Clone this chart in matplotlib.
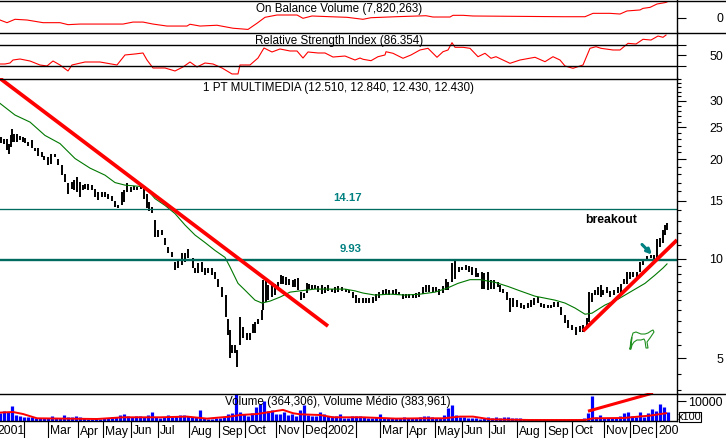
import numpy as np
import matplotlib
matplotlib.use("Agg")
import matplotlib.pyplot as plt
from matplotlib.ticker import FixedLocator, NullFormatter, FixedFormatter

W, H = 726, 438
plt.rcParams['font.family'] = ['Liberation Sans', 'DejaVu Sans']

# ---------- price bars: (session position, high, low) ----------
bars_2001_a = [(1,23.4,22.4),(4,23.0,22.3),(7,23.0,21.4),(9,22.3,20.8),(11,23.6,21.8),(12,24.7,22.5),(14,23.9,22.5),(17,23.8,22.5),(20,23.5,22.8),(23,23.3,22.5),(25,23.2,22.4),(28,22.5,22.0),(32,22.8,21.6),(35,21.7,21.2),(38,21.6,20.5),(42,21.1,20.3),(44,20.5,19.9),(48,20.3,19.2),(51,20.8,19.4),(55,20.8,20.3),(58,20.1,19.2),(62,19.2,17.9),(65,18.1,17.1),(68,16.9,15.7),(72,17.1,16.3),(74,17.3,16.1),(77,17.7,15.9),(80,17.1,15.4),(83,16.7,16.1),(85,16.8,16.2),(88,16.8,16.1),(92,16.7,16.1),(95,16.3,15.4),(98,15.9,15.1),(102,15.9,15.4),(105,15.9,15.4),(108,15.7,15.2),(112,15.5,15.0),(115,15.0,14.3),(118,14.5,14.2),(122,15.9,14.5),(124,16.1,14.8),(127,16.9,15.9),(131,16.5,15.9),(134,16.6,16.1),(137,16.5,16.1),(141,16.7,16.3),(144,16.3,15.2),(147,15.7,14.2),(149,14.8,13.9),(152,14.3,13.8)]
bars_2001_b = [(155,13.1,11.65),(158,12.2,11.65),(162,12.2,11.8),(165,11.53,11.0),(168,10.87,10.4),(172,10.5,10.15),(175,9.8,9.25),(178,9.91,9.36),(182,10.4,9.58),(185,10.4,9.8),(188,10.72,10.03),(193,10.03,9.36),(195,9.36,9.03),(198,9.69,9.03),(202,9.8,9.14),(205,9.36,8.93),(208,9.36,9.03),(212,9.36,8.93),(215,9.14,8.7),(218,8.7,8.22),(222,8.22,7.68),(226,7.77,6.68),(228,6.6,5.88),(230,6.09,5.0),(232,5.49,5.18),(235,5.49,5.18),(237,5.3,4.72),(240,6.68,5.49),(243,6.22,5.75),(247,5.95,5.68),(250,5.95,5.68),(253,6.37,5.95),(255,6.45,5.95),(258,6.6,6.37),(262,7.0,6.53)]
bars_2002_a = [(263,8.6,7.0),(266,8.7,7.41),(268,8.32,7.5),(272,8.41,7.68),(275,8.41,7.77),(278,8.5,8.04),(281,8.93,8.41),(283,8.88,8.41),(286,8.82,8.32),(289,8.7,8.32),(293,8.6,8.22),(295,8.7,8.22),(298,8.74,8.04),(301,7.95,7.5),(304,7.86,7.59),(307,8.47,7.86),(309,8.41,8.13),(312,8.36,8.13),(315,8.36,8.13),(318,8.28,7.91),(322,8.32,7.81),(325,8.22,7.86),(328,8.36,7.99),(332,8.13,7.95),(335,8.22,7.86),(338,8.28,7.91),(342,8.22,7.99),(346,8.13,7.91),(349,8.04,7.86),(353,7.95,7.59),(356,7.77,7.33),(359,7.59,7.33),(363,7.59,7.33),(366,7.59,7.33),(369,7.59,7.33),(373,7.68,7.36),(376,7.81,7.45),(379,7.91,7.59),(383,8.04,7.77),(386,8.13,7.81),(389,8.04,7.77),(393,8.04,7.81),(396,8.08,7.81),(399,7.95,7.75),(403,7.81,7.55),(406,7.81,7.59),(409,7.81,7.59),(413,7.81,7.59),(416,7.86,7.62),(419,7.91,7.68),(423,8.22,7.81),(426,8.32,7.91),(429,8.36,7.95),(433,8.22,7.95),(436,8.22,7.91),(439,8.13,7.77),(443,8.28,7.86),(446,8.7,8.04),(448,8.5,8.04)]
bars_2002_b = [(452,9.69,8.5),(455,9.91,8.7),(459,9.47,9.14),(462,9.47,9.25),(466,9.58,9.25),(469,9.51,9.14),(472,9.47,8.93),(476,9.36,8.82),(478,9.03,8.82),(482,9.14,8.13),(484,9.03,8.13),(488,9.14,8.04),(491,8.6,8.13),(494,8.6,8.13),(498,8.5,8.22),(500,8.32,7.95),(503,8.13,7.86),(507,7.95,7.5),(510,7.59,6.92),(513,7.59,7.17),(517,7.5,7.17),(521,7.33,7.08),(524,7.25,7.05),(528,7.33,7.08),(531,7.5,7.17),(534,7.59,7.25),(538,7.68,7.33),(541,7.33,7.17),(544,7.28,7.08),(548,7.25,7.08),(551,7.25,7.08),(554,7.41,7.17),(558,7.41,7.17),(561,7.17,6.76),(565,6.76,6.39),(568,6.53,6.17),(572,6.3,6.09),(576,6.22,5.88),(580,6.28,6.0),(583,6.3,6.02),(587,6.61,6.17),(589,7.91,6.45),(592,7.86,7.41),(595,8.04,7.77),(598,8.22,7.77),(601,8.32,7.68),(603,8.04,7.77),(607,8.22,7.86),(610,7.99,7.68),(614,8.04,7.77),(618,8.22,7.86),(621,8.41,7.86),(624,8.7,8.41),(627,9.14,8.41),(630,9.14,8.7),(633,9.14,8.82),(637,9.14,8.82),(640,9.8,9.14),(643,10.02,9.58),(647,10.2,9.98),(651,10.3,10.05),(654,10.25,9.98),(657,11.5,10.05),(660,11.55,10.85),(663,12.2,11.2),(665,12.65,11.8),(667,12.84,12.2)]
bars = bars_2001_a + bars_2001_b + bars_2002_a + bars_2002_b
bar_x = [b[0] for b in bars]
bar_high = [b[1] for b in bars]
bar_low = [b[2] for b in bars]

# ---------- moving average on the price panel ----------
ma_x = [0,15,30,45,60,75,90,105,115,125,135,145,155,165,175,185,195,205,215,225,230,238,245,255,262,270,280,290,300,315,330,345,355,363,375,390,405,420,435,447,458,470,480,495,508,520,535,555,565,575,585,592,605,618,630,645,655,663,667]
ma_val = [29.5,27.2,25.9,23.6,22.3,20.1,18.8,17.9,17.0,16.7,16.6,16.5,15.2,14.5,13.7,12.65,11.8,11.2,10.6,10.1,9.45,8.43,8.04,7.5,7.35,7.45,7.66,7.93,8.0,8.1,8.1,8.1,8.0,7.88,7.77,7.82,7.77,7.82,7.93,8.15,8.43,8.65,8.65,8.49,8.25,8.0,7.71,7.5,7.35,7.1,6.8,6.85,7.25,7.55,7.93,8.43,8.93,9.38,9.65]

# ---------- analyst lines ----------
levels = [14.17, 9.93]
level_labels = ["14.17", "9.93"]
down_x, down_val = [0, 328], [35.1, 6.26]
up_x, up_val = [583, 677], [6.05, 11.4]

# ---------- on balance volume, millions ----------
obv_x = [0,7,15,27,43,60,68,80,123,133,143,153,167,187,190,200,217,233,248,257,265,277,297,303,312,330,347,363,371,396,426,433,450,453,463,473,563,585,593,610,620,627,640,643,650,657,665,667]
obv_val = [-1.26,-2.6,-.9,-1.26,-2.6,-2.6,-3.6,-3.3,-3.3,-2.3,-2.3,-3.3,-4.3,-4.3,-3.4,-4.3,-3.9,-5.4,-6,-2.9,.1,1.26,1.26,-.4,.76,.4,.1,-.9,-.1,.4,.9,.25,.25,1.1,1.1,.76,.4,.4,2.1,2.1,1.76,3.3,3.8,4.6,5.1,6.8,7.5,7.8]

# ---------- relative strength index ----------
rsi_x = [0,5,10,13,20,30,40,47,53,60,68,72,85,100,117,125,135,143,147,153,165,175,183,190,197,205,213,222,232,238,240,250,258,264,272,280,290,297,303,308,318,325,333,345,355,360,363,371,378,385,386,393,403,411,420,428,437,443,448,452,455,463,470,478,485,491,496,510,520,535,545,553,560,565,573,583,590,596,601,613,620,628,636,643,651,658,663,666]
rsi_val = [33.8,33.8,35.7,41.4,43.3,39.5,31.9,30,39.5,31.9,20.5,31.9,37.6,37.6,31.9,51,52.9,54.8,41.4,26.2,26.2,20.5,28.1,37.6,28.1,35.7,33.8,26.2,14.8,14.8,31.9,31.9,45.2,64.3,56.7,62.4,58.6,58.6,45.2,56.7,54.8,54.8,47.1,49,41.4,45.2,42.8,40.1,47.7,51,57.2,54.2,44.7,51,60.5,63.7,46.6,57.2,60.5,74.4,65.6,65.6,63.7,47.7,54.2,44.7,47.7,35.1,41.4,46.6,38.2,47.7,41.4,30,25.6,31.9,63.7,66.8,63.7,60.5,60.5,73.2,71.9,80.9,79.5,87.1,84.7,89]

# ---------- volume, hundreds ----------
vol_x = list(range(0, 672, 4))
vol_val = [4000,5000,4500,7500,3000,2500,2000,2000,2000,1500,1500,1500,1500,2500,1500,1500,3000,2000,2000,2500,2000,1500,1000,1000,1500,1000,1500,1500,2000,2000,3000,3500,2500,2000,2500,2500,2000,3000,4500,2000,1500,2000,3000,2000,2500,3000,3000,2500,2000,2000,5500,1500,1000,1000,1500,1500,2000,3500,4000,13500,4500,3500,2500,4000,7000,8500,10000,5000,5500,3500,3500,4500,3000,3500,2500,5500,8000,3000,2500,2500,4500,3500,2500,2500,2500,3500,1500,1500,2500,2500,2500,2000,1500,1500,2000,3500,1500,1500,1500,1500,1500,2000,1500,1500,1500,2000,2500,2500,2000,1500,1500,3000,6500,8000,3000,2000,2000,1500,1500,1500,1000,1500,2000,1500,2000,1500,2000,2000,1500,1500,1500,1000,1000,1000,1000,1000,1000,1000,1000,1000,1000,1000,1000,1000,1000,1000,1500,4000,12500,2000,3000,1500,1500,1500,1500,2500,4000,4500,2500,2000,4500,2000,4000,6000,5000,8500,7000,4500]
volavg_x = [0,13,23,37,97,123,160,187,207,230,240,257,283,293,300,320,333,363,396,423,443,460,473,490,530,585,593,623,650,666]
volavg_val = [4200,4500,3500,1350,1000,1850,1850,2200,1200,2200,3000,3500,5550,3900,3350,3000,1850,1850,1200,1350,1350,2200,2200,850,500,500,1350,1500,2700,3900]
vol_trend_x, vol_trend_val = [588, 653], [4900, 14000]

# ---------- text and ticks ----------
month_ticks = [24,48,78,103,131,158,189,219,245,276,303,326,356,380,407,435,462,489,517,545,572,604,630,656]
month_labels = [("2001",-3),("Mar",50),("Apr",80),("May",105),("Jun",133),("Jul",160),("Aug",191),("Sep",221),("Oct",247),("Nov",278),("Dec",305),("2002",327),("Mar",382),("Apr",409),("May",437),("Jun",464),("Jul",491),("Aug",519),("Sep",547),("Oct",574),("Nov",606),("Dec",632),("200",658)]
price_major = [5,10,15,20,25,30]
price_minor = [4,4.5,5.5,6,6.5,7,7.5,8,8.5,9,9.5,11,12,13,14,16,17,18,19,21,22,23,24,26,27,28,29,31,32,33,34,35]

RED, GREEN, TEAL, BLUE = "#ff0000", "#007800", "#006b5e", "#0000ff"
FS = 8.4
TICK_FS = 8.9

fig = plt.figure(figsize=(W/100, H/100), dpi=100, facecolor="white")

def panel(top, bottom):
    ax = fig.add_axes([0, 1-bottom/H, 677/W, (bottom-top)/H])
    ax.set_xlim(0, 677)
    for s in ("left", "top", "bottom"):
        ax.spines[s].set_visible(False)
    ax.spines["right"].set_linewidth(1.0)
    ax.yaxis.tick_right()
    ax.tick_params(axis="y", which="major", length=6.5, width=0.8, labelsize=TICK_FS, pad=26.6)
    ax.tick_params(axis="y", which="minor", length=3, width=0.8)
    ax.set_xticks([])
    return ax

def right_align(ax):
    for lab in ax.get_yticklabels():
        lab.set_ha("right")

# OBV
a1 = panel(0, 32)
a1.plot(obv_x, obv_val, color=RED, lw=0.8)
a1.set_ylim(-7.3, 8.82)
a1.set_yticks([0]); a1.set_yticklabels(["0"])
right_align(a1)

# RSI
a2 = panel(32, 78)
a2.plot(rsi_x, rsi_val, color=RED, lw=0.8)
a2.axhline(70, color="black", lw=1.0); a2.axhline(30, color="black", lw=1.0)
a2.set_ylim(7.1, 94.8)
a2.set_yticks([30, 50, 70]); a2.set_yticklabels(["", "50", ""])
right_align(a2)

# Price
a3 = panel(78, 393)
a3.set_yscale("log")
a3.set_ylim(3.93, 35.2)
a3.vlines(bar_x, bar_low, bar_high, color="black", lw=1.4)
a3.plot(ma_x, ma_val, color=GREEN, lw=0.8)
a3.axhline(levels[0], color=TEAL, lw=0.95)
a3.axhline(levels[1], color=TEAL, lw=1.7)
a3.plot(down_x, down_val, color=RED, lw=2.7, solid_capstyle="butt")
a3.plot(up_x, up_val, color=RED, lw=2.7, solid_capstyle="butt")
a3.yaxis.set_major_locator(FixedLocator(price_major))
a3.yaxis.set_major_formatter(FixedFormatter([str(v) for v in price_major]))
a3.yaxis.set_minor_locator(FixedLocator(price_minor))
a3.yaxis.set_minor_formatter(NullFormatter())
right_align(a3)
for lev, lab, xp in zip(levels, level_labels, (348, 351)):
    a3.annotate(lab, (xp, lev), xytext=(0, 8.0), textcoords="offset points", ha="center", va="center",
                fontsize=FS-0.2, fontweight="bold", color="#008080")
a3.text(611, 13.1, "breakout", ha="center", va="center", fontsize=FS+0.4, fontweight="bold", color="black")
a3.annotate("", xy=(652, 10.3), xytext=(642, 11.05),
            arrowprops=dict(arrowstyle="-|>", color="#008080", lw=2.2, mutation_scale=7, shrinkA=0, shrinkB=0))

# Volume
a4 = panel(393, 421)
a4.vlines(vol_x, 0, vol_val, color=BLUE, lw=2.3)
a4.plot(volavg_x, volavg_val, color=RED, lw=1.4)
a4.plot(vol_trend_x, vol_trend_val, color=RED, lw=2.2, solid_capstyle="butt")
a4.set_ylim(0, 14000)
a4.set_yticks([10000]); a4.set_yticklabels(["10000"])
right_align(a4)
a4.spines["bottom"].set_visible(True)
a4.spines["bottom"].set_linewidth(1.0)
a4.xaxis.set_ticks(month_ticks)
a4.tick_params(axis="x", length=12.2, width=0.8, labelbottom=False, direction="out")

# overlay in pixel space: titles, rules, the small bull sketch
ov = fig.add_axes([0, 0, 1, 1], facecolor="none", zorder=10)
ov.set_xlim(0, W); ov.set_ylim(H, 0); ov.axis("off")
for y, xe in ((0.5, W), (32.5, W), (78.5, 677), (393.5, W)):
    ov.plot([0, xe], [y, y], color="black", lw=1.0)
for txt, x, y in (("On Balance Volume (7,820,263)", 339, 9),
                  ("Relative Strength Index (86.354)", 339, 41),
                  ("1 PT MULTIMEDIA (12.510, 12.840, 12.430, 12.430)", 338, 88),
                  ("Volume (364,306), Volume Médio (383,961)", 338, 402.5)):
    ov.text(x, y, txt, ha="center", va="center", fontsize=FS, color="black")
for txt, x in month_labels:
    ov.text(x, 431.5, txt, ha="left", va="center", fontsize=FS+0.3, color="black")
ov.add_patch(plt.Rectangle((679, 412), 22, 9.5, fill=False, ec="black", lw=0.8))
ov.text(690, 417, "x100", ha="center", va="center", fontsize=FS-0.6, color="black")
bull_x = [630,631,633,636,641,645,648,651,653,654,652,650,647,648,646,645,644,641,637,634,632,631,630,631,632]
bull_y = [349,340,333,332,334,334,333,331,330,332,335,338,342,348,348,341,339,340,340,342,345,349,349,345,338]
ov.plot(bull_x, bull_y, color="#209020", lw=0.8)

fig.savefig("out.png", dpi=100, facecolor="white")
